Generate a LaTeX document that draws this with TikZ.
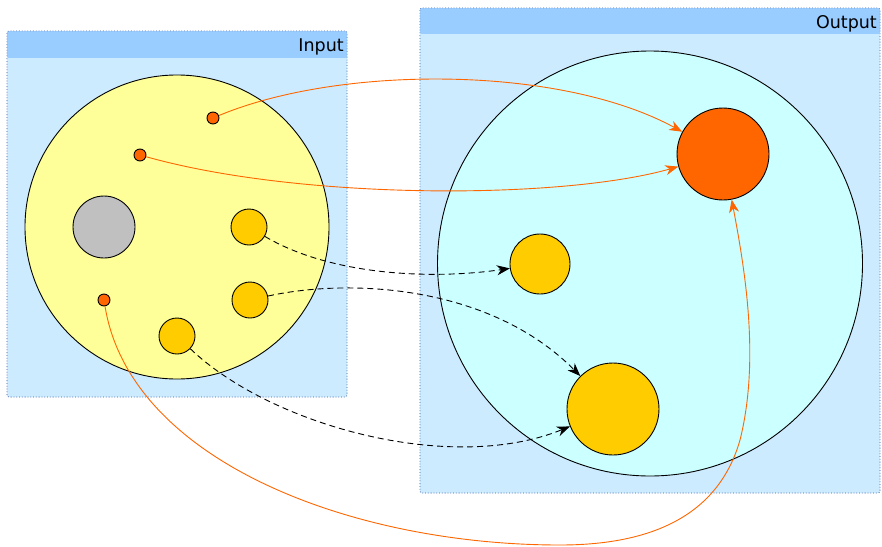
\documentclass[tikz,border=0pt]{standalone}
\usepackage{fontspec}
\setmainfont{DejaVu Sans}
\usetikzlibrary{arrows.meta}
\definecolor{panelbody}{RGB}{204,235,255}
\definecolor{panelhead}{RGB}{153,204,255}
\definecolor{panelborder}{RGB}{120,150,200}
\definecolor{bigyellow}{RGB}{255,255,153}
\definecolor{bigcyan}{RGB}{204,255,255}
\definecolor{gold}{RGB}{255,204,0}
\definecolor{orng}{RGB}{255,102,0}
\definecolor{grayc}{RGB}{192,192,192}
\tikzset{
  ball/.style={circle, draw=black, line width=0.9pt, inner sep=0pt, minimum size=#1},
  panel/.style={fill=panelbody, draw=panelborder, dotted, line width=0.8pt, rounded corners=2pt},
  head/.style={fill=panelhead},
  lbl/.style={anchor=base east, font=\fontsize{17.5}{20}\selectfont, inner sep=0pt},
  oarrow/.style={draw=orng, line width=0.9pt, -{Stealth[length=13pt,width=10pt,inset=4pt]}},
  darrow/.style={draw=black, line width=0.9pt, dash pattern=on 6pt off 4pt, -{Stealth[length=13pt,width=10pt,inset=4pt]}}
}
\begin{document}
\begin{tikzpicture}[x=1pt,y=-1pt]
\useasboundingbox (0,0) rectangle (882,546);
% panels
\path[panel] (7,31) rectangle (347,397);
\fill[head, rounded corners=2pt] (7,31) rectangle (347,58);
\fill[panelbody] (7,58) rectangle (347,60);
\draw[panelborder, dotted, line width=0.8pt, rounded corners=2pt] (7,31) rectangle (347,397);
\node[lbl] (inlbl) at (344,51) {Input};

\path[panel] (420,8) rectangle (880,493);
\fill[head, rounded corners=2pt] (420,8) rectangle (880,34);
\fill[panelbody] (420,34) rectangle (880,36);
\draw[panelborder, dotted, line width=0.8pt, rounded corners=2pt] (420,8) rectangle (880,493);
\node[lbl] (outlbl) at (877,28) {Output};

% big circles
\node[ball=304pt, fill=bigyellow] (A) at (177,227) {};
\node[ball=425pt, fill=bigcyan] (B) at (650,263.5) {};

% input elements
\node[ball=62pt, fill=grayc] (g) at (104,227) {};
\node[ball=36pt, fill=gold] (y1) at (249,227) {};
\node[ball=36pt, fill=gold] (y2) at (250,300) {};
\node[ball=36pt, fill=gold] (y3) at (177,336) {};
\node[ball=12pt, fill=orng] (o1) at (213,118) {};
\node[ball=12pt, fill=orng] (o2) at (140,155) {};
\node[ball=12pt, fill=orng] (o3) at (104,300) {};

% output elements
\node[ball=92pt, fill=orng] (O) at (723,154) {};
\node[ball=60pt, fill=gold] (Y1) at (540,264) {};
\node[ball=92pt, fill=gold] (Y2) at (613,409) {};

% connectors
\draw[oarrow] (o1) .. controls (340,65) and (560,65) .. (O);
\draw[oarrow] (o2) .. controls (300,200) and (560,200) .. (O);
\draw[oarrow] (o3) .. controls (130,460) and (350,545) .. (560,545)
  .. controls (660,545) and (720,510) .. (740,440)
  .. controls (760,360) and (745,270) .. (O);
\draw[darrow] (y1) .. controls (330,275) and (430,280) .. (Y1);
\draw[darrow] (y2) .. controls (350,278) and (490,285) .. (Y2);
\draw[darrow] (y3) .. controls (270,425) and (450,475) .. (Y2);
\end{tikzpicture}
\end{document}
